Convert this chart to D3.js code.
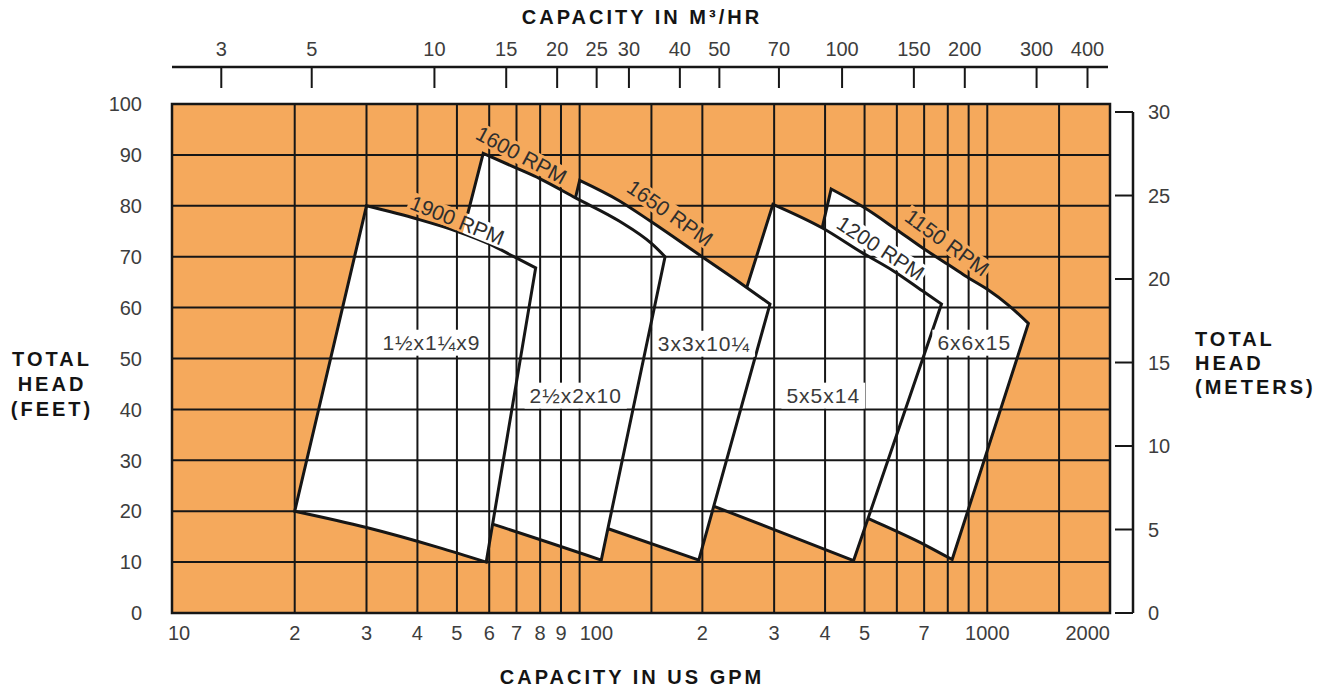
<!DOCTYPE html>
<html>
<head>
<meta charset="utf-8">
<script src="https://cdn.jsdelivr.net/npm/d3@7"></script>
<style>
  body { margin: 0; background: #fff; }
  text { font-family: "Liberation Sans", Arial, sans-serif; }
  .tick { font-size: 20px; fill: #3d3d3d; }
  .title { font-size: 20px; font-weight: bold; fill: #141414; letter-spacing: 3px; }
  .rpm { font-size: 21px; fill: #2e2e2e; }
  .size { font-size: 21px; fill: #3a3a3a; letter-spacing: 1px; }
</style>
</head>
<body>
<script>
const W = 1331, H = 689;

// ---- data (US GPM / feet) ----
const gpmGrid = [20, 30, 40, 50, 60, 70, 80, 90, 100, 150, 200, 300, 400, 500, 600, 700, 800, 900, 1000, 1500];
const headGrid = [10, 20, 30, 40, 50, 60, 70, 80, 90];
const gpmTicks = [10, 20, 30, 40, 50, 60, 70, 80, 90, 100, 200, 300, 400, 500, 700, 1000, 2000];
const gpmTickLabels = ["10", "2", "3", "4", "5", "6", "7", "8", "9", "100", "2", "3", "4", "5", "7", "1000", "2000"];
const headTicks = [0, 10, 20, 30, 40, 50, 60, 70, 80, 90, 100];
const meterTicks = [0, 5, 10, 15, 20, 25, 30];
const m3hrTicks = [3, 5, 10, 15, 20, 25, 30, 40, 50, 70, 100, 150, 200, 300, 400];

const pumps = ["1½x1¼x9", "2½x2x10", "3x3x10¼", "5x5x14", "6x6x15"];
const rpms = ["1900 RPM", "1600 RPM", "1650 RPM", "1200 RPM", "1150 RPM"];

// full-impeller curve (left -> right)
const topCurves = [
  [[30, 80], [40, 77.4], [50, 75], [60, 72.5], [69, 70], [78, 67.8]],
  [[58, 90.3], [70, 87.4], [80, 85.3], [98, 81.5], [125, 77], [150, 72.6], [162, 70]],
  [[100, 85], [125, 81], [149, 77], [198, 70.2], [240, 65.6], [293, 60.7]],
  [[298, 80.3], [395, 75.6], [493, 70.8], [586, 67.3], [693, 63.3], [772, 60.7]],
  [[414, 83.3], [500, 79.6], [597, 75.4], [700, 71.5], [800, 68.5], [884, 66.2], [1000, 63.6], [1130, 60.4], [1261, 56.9]]
];
// minimum-impeller curve (right -> left)
const bottomCurves = [
  [[59, 10], [45, 12.9], [30, 16.8], [20, 20]],
  [[113, 10.4], [62, 17.3], [35.4, 23.3]],
  [[196, 10.4], [119, 16.4], [65.6, 23.6]],
  [[470, 10.3], [300, 16.4], [178, 23.4]],
  [[820, 10.5], [706, 13.3], [516, 18.4], [380, 23.2], [286, 27.6]]
];

const pumpLabelAt = [[43.3, 53.1], [97.8, 42.7], [201.8, 52.9], [396, 42.7], [929, 53.1]];
const rpmLabelAt = [[50.1, 77.2], [72, 90], [166.7, 78.6], [548, 71.7], [797, 72.8]];
const rpmAngle = [22, 28, 35, 33, 36];

const M3HR_PER_GPM = 0.2271;
const FT_PER_M = 3.2808;
const ORANGE = "#f5a95c";
const INK = "#161616";

// ---- scales ----
const x = d3.scaleLog().domain([10, 2000]).range([172, 1110]);
const y = d3.scaleLinear().domain([0, 100]).range([613, 104]);
const xTop = d3.scaleLog().domain([10 * M3HR_PER_GPM, 2000 * M3HR_PER_GPM]).range([172, 1110]);
const yM = d3.scaleLinear().domain([0, 100 / FT_PER_M]).range([613, 104]);

const svg = d3.select("body").append("svg").attr("width", W).attr("height", H);
const defs = svg.append("defs");
const mask = defs.append("mask").attr("id", "lbl")
  .attr("maskUnits", "userSpaceOnUse")
  .attr("x", 0).attr("y", 0).attr("width", W).attr("height", H);
mask.append("rect").attr("width", W).attr("height", H).attr("fill", "#fff");

// background
svg.append("rect")
  .attr("x", x(10)).attr("y", y(100))
  .attr("width", x(2000) - x(10)).attr("height", y(0) - y(100))
  .attr("fill", ORANGE);

function drawGrid(g) {
  g.selectAll("line.v").data(gpmGrid).join("line").attr("class", "v")
    .attr("x1", d => x(d)).attr("x2", d => x(d))
    .attr("y1", y(100)).attr("y2", y(0));
  g.selectAll("line.h").data(headGrid).join("line").attr("class", "h")
    .attr("x1", x(10)).attr("x2", x(2000))
    .attr("y1", d => y(d)).attr("y2", d => y(d));
  g.attr("stroke", INK).attr("stroke-width", 2);
}

drawGrid(svg.append("g").attr("mask", "url(#lbl)"));

// top curve, then right edge, bottom curve, left edge
function outlinePath(topPts, botPts) {
  const p = d3.path();
  let started = false;
  const ctx = {
    moveTo(a, b) { if (started) p.lineTo(a, b); else { p.moveTo(a, b); started = true; } },
    lineTo(a, b) { p.lineTo(a, b); },
    bezierCurveTo(a, b, c, d, e, f) { p.bezierCurveTo(a, b, c, d, e, f); },
    closePath() {}
  };
  const gen = () => d3.line().x(d => x(d[0])).y(d => y(d[1])).curve(d3.curveMonotoneX).context(ctx);
  gen()(topPts);
  gen()(botPts);
  p.closePath();
  return p.toString();
}

// back to front: rightmost pump is behind
d3.range(pumps.length).reverse().forEach(i => {
  const d = outlinePath(topCurves[i], bottomCurves[i]);
  defs.append("clipPath").attr("id", "clip" + i).append("path").attr("d", d);
  const g = svg.append("g");
  g.append("path").attr("d", d).attr("fill", "#fff");
  drawGrid(g.append("g").attr("clip-path", `url(#clip${i})`).attr("mask", "url(#lbl)"));
  g.append("path").attr("d", d)
    .attr("fill", "none").attr("stroke", INK).attr("stroke-width", 3)
    .attr("stroke-linejoin", "miter").attr("mask", "url(#lbl)");
});

// frame
svg.append("rect")
  .attr("x", x(10)).attr("y", y(100))
  .attr("width", x(2000) - x(10)).attr("height", y(0) - y(100))
  .attr("fill", "none").attr("stroke", INK).attr("stroke-width", 2.5);

// ---- in-plot labels (knock out grid behind them) ----
function knockout(sel, pad) {
  sel.each(function () {
    const t = d3.select(this);
    const w = this.getComputedTextLength();
    const fs = parseFloat(getComputedStyle(this).fontSize);
    mask.append("rect")
      .attr("transform", t.attr("transform"))
      .attr("x", -w / 2 - pad).attr("y", -0.38 * fs - pad)
      .attr("width", w + 2 * pad).attr("height", 0.76 * fs + 2 * pad)
      .attr("fill", "#000");
  });
}

const rpmText = svg.append("g").selectAll("text").data(rpms).join("text")
  .attr("class", "rpm")
  .attr("text-anchor", "middle").attr("dy", "0.36em")
  .attr("transform", (d, i) => `translate(${x(rpmLabelAt[i][0])},${y(rpmLabelAt[i][1])}) rotate(${rpmAngle[i]})`)
  .text(d => d);
knockout(rpmText, 2);

const sizeText = svg.append("g").selectAll("text").data(pumps).join("text")
  .attr("class", "size")
  .attr("text-anchor", "middle").attr("dy", "0.36em")
  .attr("transform", (d, i) => `translate(${x(pumpLabelAt[i][0])},${y(pumpLabelAt[i][1])})`)
  .text(d => d);
knockout(sizeText, 5);

// ---- bottom axis (GPM) ----
svg.append("g").selectAll("text").data(gpmTicks).join("text")
  .attr("class", "tick")
  .attr("x", d => d === 10 ? x(d) - 4 : x(d))
  .attr("y", 640)
  .attr("text-anchor", d => d === 10 || d === 100 ? "start" : d === 2000 ? "end" : "middle")
  .text((d, i) => gpmTickLabels[i]);

svg.append("text").attr("class", "title")
  .attr("x", 632).attr("y", 684).attr("text-anchor", "middle")
  .text("CAPACITY IN US GPM");

// ---- top axis (m3/hr) ----
const topAxis = svg.append("g");
topAxis.append("line")
  .attr("x1", x(10)).attr("x2", x(2000) - 2).attr("y1", 67).attr("y2", 67)
  .attr("stroke", INK).attr("stroke-width", 2.5);
topAxis.selectAll("line.t").data(m3hrTicks).join("line").attr("class", "t")
  .attr("x1", d => xTop(d)).attr("x2", d => xTop(d))
  .attr("y1", 67).attr("y2", 88)
  .attr("stroke", INK).attr("stroke-width", 2);
topAxis.selectAll("text").data(m3hrTicks).join("text")
  .attr("class", "tick")
  .attr("x", d => xTop(d)).attr("y", 56)
  .attr("text-anchor", "middle")
  .text(d => d);

svg.append("text").attr("class", "title")
  .attr("x", 642).attr("y", 24).attr("text-anchor", "middle")
  .text("CAPACITY IN M³/HR");

// ---- left axis (feet) ----
svg.append("g").selectAll("text").data(headTicks).join("text")
  .attr("class", "tick")
  .attr("x", 142).attr("y", d => y(d)).attr("dy", "0.36em")
  .attr("text-anchor", "end")
  .text(d => d);

svg.append("text").attr("class", "title")
  .attr("text-anchor", "middle")
  .selectAll("tspan").data(["TOTAL", "HEAD", "(FEET)"]).join("tspan")
  .attr("x", 52).attr("y", (d, i) => y(50) + 7 + i * 25)
  .text(d => d);

// ---- right axis (meters) ----
const rightAxis = svg.append("g");
rightAxis.append("line")
  .attr("x1", 1133).attr("x2", 1133)
  .attr("y1", yM(30)).attr("y2", yM(0))
  .attr("stroke", INK).attr("stroke-width", 2.5);
rightAxis.selectAll("line.t").data(meterTicks).join("line").attr("class", "t")
  .attr("x1", 1115).attr("x2", 1133)
  .attr("y1", d => yM(d)).attr("y2", d => yM(d))
  .attr("stroke", INK).attr("stroke-width", 2);
rightAxis.selectAll("text").data(meterTicks).join("text")
  .attr("class", "tick")
  .attr("x", 1148).attr("y", d => yM(d)).attr("dy", "0.36em")
  .text(d => d);

svg.append("text").attr("class", "title")
  .selectAll("tspan").data(["TOTAL", "HEAD", "(METERS)"]).join("tspan")
  .attr("x", 1195).attr("y", (d, i) => yM(15) + 7 + (i - 1) * 24)
  .text(d => d);
</script>
</body>
</html>
